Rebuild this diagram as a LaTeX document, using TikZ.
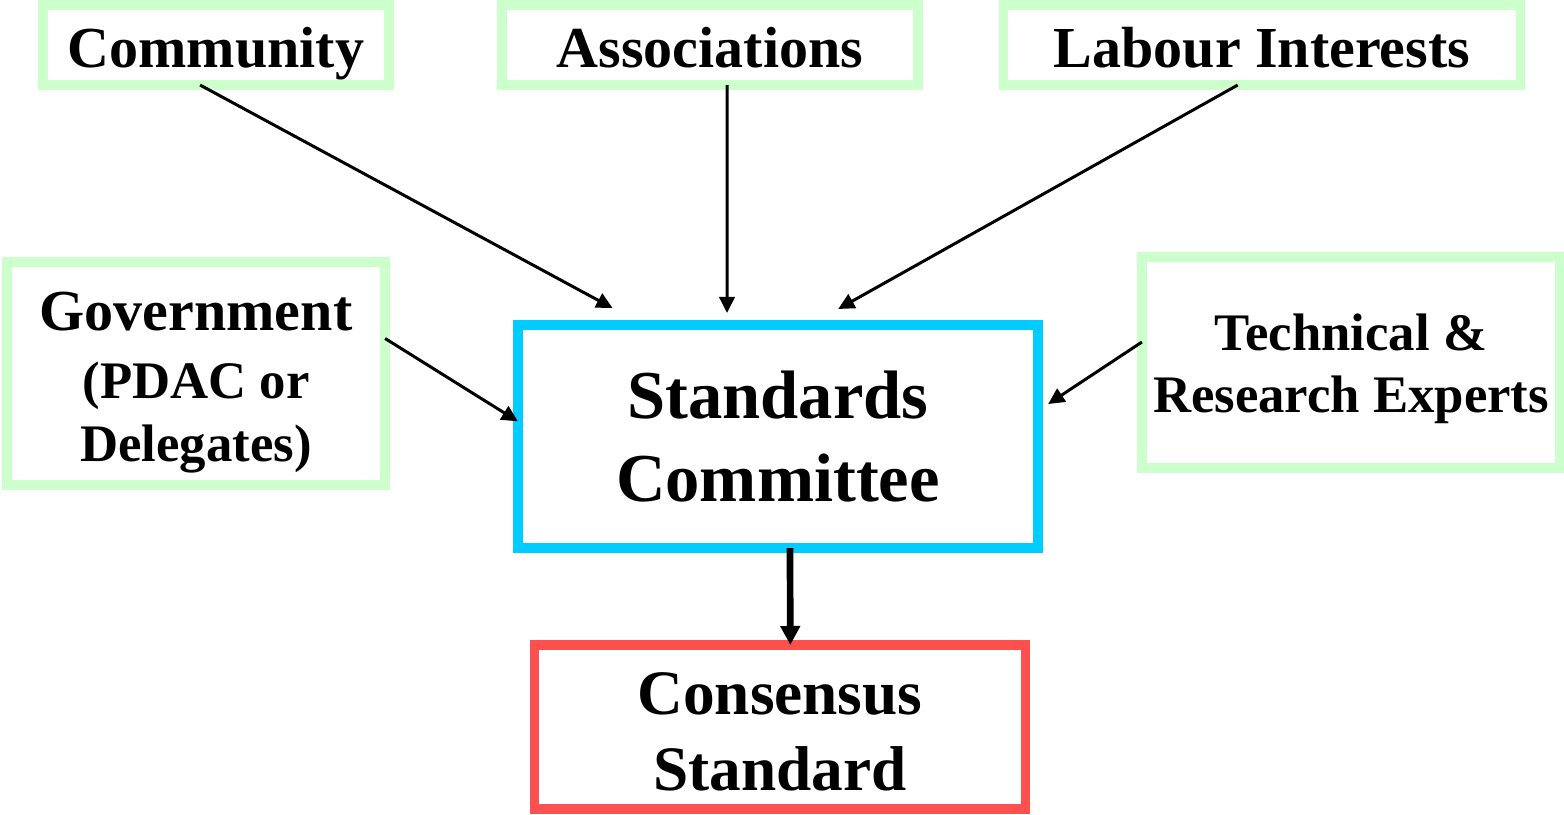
\documentclass[tikz,border=0pt]{standalone}
\usepackage{fontspec}
\setmainfont{Liberation Serif}
\usetikzlibrary{arrows.meta,calc}

\definecolor{partygreen}{HTML}{CCFFCC}
\definecolor{committeeblue}{HTML}{00CCFF}
\definecolor{consensusred}{HTML}{FF5050}

\tikzset{
	box/.style={line width=2.7pt, inner sep=0pt, outer sep=0pt, align=center},
	party/.style={box, draw=partygreen, font=\fontsize{16.5}{18.6}\selectfont\bfseries},
	toprow/.style={party, minimum height=0.8cm, text height=13pt, text depth=0pt},
	committee/.style={box, draw=committeeblue, font=\fontsize{19.5}{23.5}\selectfont\bfseries},
	consensus/.style={box, draw=consensusred, font=\fontsize{18}{21.5}\selectfont\bfseries},
	input/.style={-{Triangle[length=4.6pt,width=4.4pt]}, line width=0.85pt},
	output/.style={-{Triangle[length=5.4pt,width=5.4pt]}, line width=1.9pt}
}

\begin{document}
\begin{tikzpicture}[x=0.01cm,y=-0.01cm]
		\useasboundingbox (0,0) rectangle (1564,814);

		\node[toprow, minimum width=3.46cm] (comm) at (216,45) {Community};
		\node[toprow, minimum width=4.16cm] (assoc) at (710,45) {Associations};
		\node[toprow, minimum width=5.17cm] (labour) at (1262,45) {Labour Interests};

		\node[party, minimum width=3.78cm, minimum height=2.23cm, font=\fontsize{15}{17.9}\selectfont\bfseries] (gov) at (196,373.5)
			{{\fontsize{16.5}{19}\selectfont\rule{0pt}{16.2pt}Government}\\[1.4pt](PDAC or\\Delegates)};
		\node[party, minimum width=4.18cm, minimum height=2.11cm, font=\fontsize{15}{17.9}\selectfont\bfseries] (tech) at (1351,362.5)
			{\rule{0pt}{14pt}Technical \&\\Research Experts};

		\node[committee, minimum width=5.2cm, minimum height=2.23cm] (stdc) at (778,436.5) {Standards\\Committee};
		\node[consensus, minimum width=4.91cm, minimum height=1.64cm] (cons) at (780,727) {\rule{0pt}{14.7pt}Consensus\\Standard};

		\draw[input, shorten >=0.354cm] ($(comm.south west)!.454!(comm.south east)$) -- ($(stdc.north west)!.242!(stdc.north east)$);
		\draw[input, shorten >=0.12cm] ($(assoc.south west)!.541!(assoc.south east)$) -- ($(stdc.north west)!.402!(stdc.north east)$);
		\draw[input, shorten >=0.326cm] ($(labour.south west)!.453!(labour.south east)$) -- ($(stdc.north west)!.561!(stdc.north east)$);
		\draw[input] ($(gov.north east)!.343!(gov.south east)$) -- ($(stdc.north west)!.432!(stdc.south west)$);
		\draw[input, shorten >=0.12cm] ($(tech.north west)!.403!(tech.south west)$) -- ($(stdc.north east)!.384!(stdc.south east)$);

		\draw[output] ($(stdc.south west)!.523!(stdc.south east)$) -- ($(cons.north west)!.521!(cons.north east)$);
\end{tikzpicture}
\end{document}
